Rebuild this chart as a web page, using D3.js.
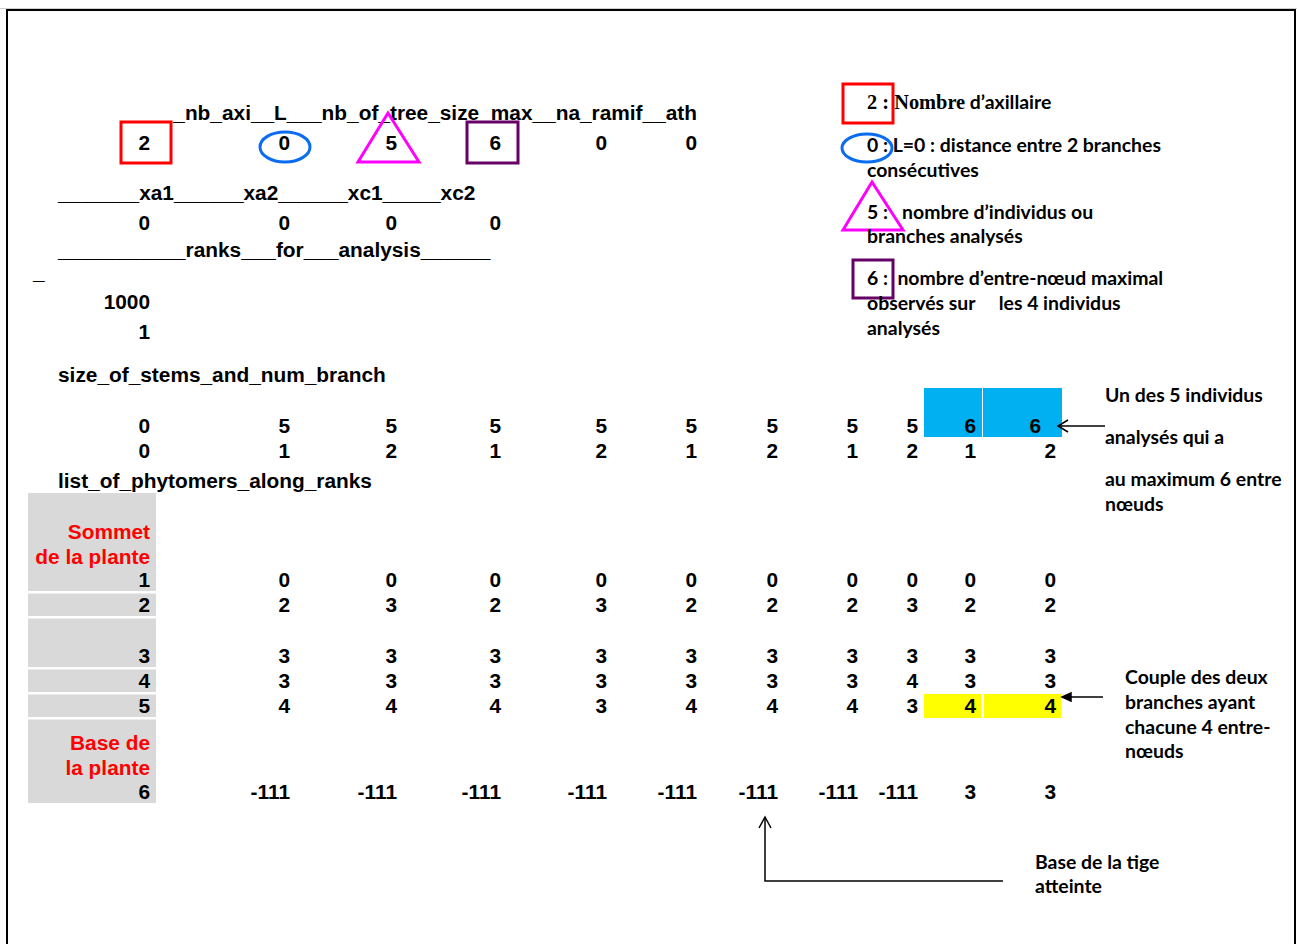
<!DOCTYPE html>
<html><head><meta charset="utf-8">
<script src="https://cdn.jsdelivr.net/npm/d3@7"></script>
<style>body{margin:0;background:#fff}svg{display:block}text{white-space:pre}</style>
</head><body>
<script>
// ---------- data ----------
const paramHeader = "_nb_axi__L___nb_of_tree_size_max__na_ramif__ath";
const paramValues = [2, 0, 5, 6, 0, 0];
const xHeader = "_______xa1______xa2______xc1_____xc2";
const xValues = [0, 0, 0, 0];
const ranksHeader = "___________ranks___for___analysis______";
const ranksValues = [1000, 1];
const stemsTitle = "size_of_stems_and_num_branch";
const stemSizes = [0, 5, 5, 5, 5, 5, 5, 5, 5, 6, 6];
const branchNums = [0, 1, 2, 1, 2, 1, 2, 1, 2, 1, 2];
const phytoTitle = "list_of_phytomers_along_ranks";
const ranks = [1, 2, 3, 4, 5, 6];
const phyto1 = [0, 0, 0, 0, 0, 0, 0, 0, 0, 0];
const phyto2 = [2, 3, 2, 3, 2, 2, 2, 3, 2, 2];
const phyto3 = [3, 3, 3, 3, 3, 3, 3, 3, 3, 3];
const phyto4 = [3, 3, 3, 3, 3, 3, 3, 4, 3, 3];
const phyto5 = [4, 4, 4, 3, 4, 4, 4, 3, 4, 4];
const phyto6 = [-111, -111, -111, -111, -111, -111, -111, -111, 3, 3];
const phytomers = [phyto1, phyto2, phyto3, phyto4, phyto5, phyto6];
const topLabel = ["Sommet", "de la plante"];
const baseLabel = ["Base de", "la plante"];
const legendKeys = ["2 : ", "0 : ", "5 : ", "6 : "];
const legendFirstSerif = "Nombre";
const legendLines = [
  [" d’axillaire"],
  ["L=0 : distance entre 2 branches", "consécutives"],
  ["  nombre d’individus ou", "branches analysés"],
  [" nombre d’entre-nœud maximal", "observés sur     les 4 individus", "analysés"]
];
const noteBlue = ["Un des 5 individus", "analysés qui a", "au maximum 6 entre", "nœuds"];
const noteYellow = ["Couple des deux", "branches ayant", "chacune 4 entre-", "nœuds"];
const noteBase = ["Base de la tige", "atteinte"];
const blueCols = [9, 10];
const yellowCols = [9, 10];
const yellowRank = 5;
const baseCol = 6;

// ---------- layout ----------
const W = 1297, H = 944;
const svg = d3.select("body").append("svg").attr("width", W).attr("height", H);
const TF = '"Liberation Sans", Arial, sans-serif';
const AF = 'Lato, "Open Sans", sans-serif';
const SF = '"Liberation Serif", "Times New Roman", serif';

function fitSize(family, text, target) {
  const t = svg.append("text").attr("font-family", family).attr("font-weight", "bold").attr("font-size", 20).text(text);
  const w = t.node().getComputedTextLength(); t.remove();
  return 20 * target / w;
}
const tSize = fitSize(TF, stemsTitle, 328);
const aSize = fitSize(AF, noteBlue[0], 158);

const x = d3.scaleOrdinal(d3.range(11), [150, 290, 397, 501, 607, 697, 778, 858, 918, 976, 1056]);
const rowY = d3.scaleOrdinal(
  ["paramHeader", "params", "xHeader", "xValues", "ranksHeader", "ranksCont", "rank0", "rank1", "stemsTitle", "stems", "branches", "phytoTitle"],
  [113, 143, 193, 223, 250, 272, 302, 332, 375, 426, 451, 481]);
const rankY = d3.scaleOrdinal(ranks, [580, 605, 656, 681, 706, 792]);
const tb = c => c + tSize * 0.355;
const ab = c => c + aSize * 0.33;

// frame
svg.append("line").attr("x1", 0).attr("x2", W).attr("y1", 8.5).attr("y2", 8.5).attr("stroke", "#cfcfcf");
svg.append("path").attr("d", `M7,${H} V10 H1295 V${H}`).attr("fill", "none").attr("stroke", "#000").attr("stroke-width", 2);

// highlights
const gH = svg.append("g");
gH.selectAll("rect.blue").data(blueCols).join("rect").attr("class", "blue")
  .attr("x", (c, i) => x(c - 1) + (i ? 7 : 6)).attr("width", (c, i) => x(c) - x(c - 1) - (i ? 1 : 0))
  .attr("y", rowY("stems") - 38).attr("height", 49).attr("fill", "#00b0f0");
gH.selectAll("rect.yel").data(yellowCols).join("rect").attr("class", "yel")
  .attr("x", (c, i) => x(c - 1) + (i ? 8 : 6)).attr("width", (c, i) => x(c) - x(c - 1) - (i ? 3 : 1))
  .attr("y", rankY(yellowRank) - 12).attr("height", 24).attr("fill", "#ffff00");

// grey rank cells
const cellBottoms = ranks.map(r => rankY(r) + 11);
const cellTops = ranks.map((r, i) => i === 0 ? 493 : cellBottoms[i - 1] + 2.5);
svg.append("g").selectAll("rect").data(ranks).join("rect")
  .attr("x", 28).attr("width", 128).attr("y", (r, i) => cellTops[i]).attr("height", (r, i) => cellBottoms[i] - cellTops[i])
  .attr("fill", "#d9d9d9");

// text helper
const g = svg.append("g").attr("font-family", TF).attr("font-weight", "bold").attr("font-size", tSize).attr("fill", "#000");
function T(xx, cy, s, anchor = "end", fill = "#000") {
  return g.append("text").attr("x", xx).attr("y", tb(cy)).attr("text-anchor", anchor).attr("fill", fill).text(s);
}
T(x(5), rowY("paramHeader"), paramHeader);
paramValues.forEach((v, i) => T(x(i), rowY("params"), v));
T(58, rowY("xHeader"), xHeader, "start");
xValues.forEach((v, i) => T(x(i), rowY("xValues"), v));
T(58, rowY("ranksHeader"), ranksHeader, "start");
T(33, rowY("ranksCont"), "_", "start");
ranksValues.forEach((v, i) => T(x(0), rowY("rank" + i), v));
T(58, rowY("stemsTitle"), stemsTitle, "start");
stemSizes.forEach((v, i) => T(x(i), rowY("stems"), v).attr("dx", i === 10 ? -15 : 0));
branchNums.forEach((v, i) => T(x(i), rowY("branches"), v));
T(58, rowY("phytoTitle"), phytoTitle, "start");
topLabel.forEach((s, i) => T(x(0), rankY(1) - 48 + 25 * i, s, "end", "#ff0000"));
baseLabel.forEach((s, i) => T(x(0), rankY(6) - 49 + 25 * i, s, "end", "#ff0000"));
ranks.forEach((r, ri) => {
  T(x(0), rankY(r), r);
  phytomers[ri].forEach((v, ci) => T(x(ci + 1), rankY(r), v));
});

// shapes on parameters
const shapeG = svg.append("g").attr("fill", "none").attr("stroke-width", 3);
const py = rowY("params");
shapeG.append("rect").attr("x", x(0) - 29).attr("y", py - 21).attr("width", 50).attr("height", 41).attr("stroke", "#ff0000");
shapeG.append("ellipse").attr("cx", x(1) - 5).attr("cy", py + 4).attr("rx", 25).attr("ry", 15).attr("stroke", "#0a6cf0");
shapeG.append("path").attr("d", `M${x(2) - 9},${py - 30} L${x(2) - 39},${py + 19} L${x(2) + 22},${py + 19} Z`).attr("stroke", "#ff00ff");
shapeG.append("rect").attr("x", x(3) - 34).attr("y", py - 21).attr("width", 51).attr("height", 41).attr("stroke", "#660066");

// legend
shapeG.append("rect").attr("x", 843).attr("y", 84).attr("width", 50).attr("height", 39).attr("stroke", "#ff0000");
shapeG.append("ellipse").attr("cx", 867).attr("cy", 148).attr("rx", 25).attr("ry", 14).attr("stroke", "#0a6cf0");
shapeG.append("path").attr("d", "M872,182 L843,230 L903,230 Z").attr("stroke", "#ff00ff");
shapeG.append("rect").attr("x", 853).attr("y", 260).attr("width", 40).attr("height", 38).attr("stroke", "#660066");

const ag = svg.append("g").attr("font-family", AF).attr("font-weight", "bold").attr("font-size", aSize).attr("fill", "#000");
const legendY = [[103], [146, 171], [213, 237], [279, 304, 329]];
legendLines.forEach((lines, k) => {
  lines.forEach((s, j) => {
    const t = ag.append("text").attr("x", 867).attr("y", ab(legendY[k][j]));
    if (j === 0) {
      t.append("tspan").attr("font-family", k === 0 ? SF : AF).attr("font-size", k === 0 ? aSize * 1.05 : aSize).text(legendKeys[k]);
      if (k === 0) t.append("tspan").attr("font-family", SF).attr("font-size", aSize * 1.05).text(legendFirstSerif);
    }
    t.append("tspan").text(s);
  });
});

noteBlue.forEach((s, i) => ag.append("text").attr("x", 1105).attr("y", ab([396, 438, 480, 505][i])).text(s));
noteYellow.forEach((s, i) => ag.append("text").attr("x", 1125).attr("y", ab(678 + 25 * i - (i === 3 ? 1 : 0))).text(s));
noteBase.forEach((s, i) => ag.append("text").attr("x", 1035).attr("y", ab(863 + 24 * i)).text(s));

// arrows
const arr = svg.append("g").attr("stroke", "#000").attr("fill", "none").attr("stroke-width", 1.5);
const sy = rowY("stems");
arr.append("path").attr("d", `M${x(10) + 49},${sy} H${x(10) + 2}`);
arr.append("path").attr("d", `M${x(10) + 12},${sy - 6} L${x(10) + 2},${sy} L${x(10) + 12},${sy + 6}`);
const yy = rankY(yellowRank) - 9;
arr.append("path").attr("d", `M${x(10) + 47},${yy} H${x(10) + 14}`);
arr.append("path").attr("d", `M${x(10) + 15},${yy - 4} L${x(10) + 6},${yy} L${x(10) + 15},${yy + 4} Z`).attr("fill", "#000");
const bx = x(baseCol) - 13;
arr.append("path").attr("d", `M1003,881 H${bx} V${rankY(6) + 25}`);
arr.append("path").attr("d", `M${bx - 6},${rankY(6) + 36} L${bx},${rankY(6) + 25} L${bx + 6},${rankY(6) + 36}`);
</script>
</body></html>
